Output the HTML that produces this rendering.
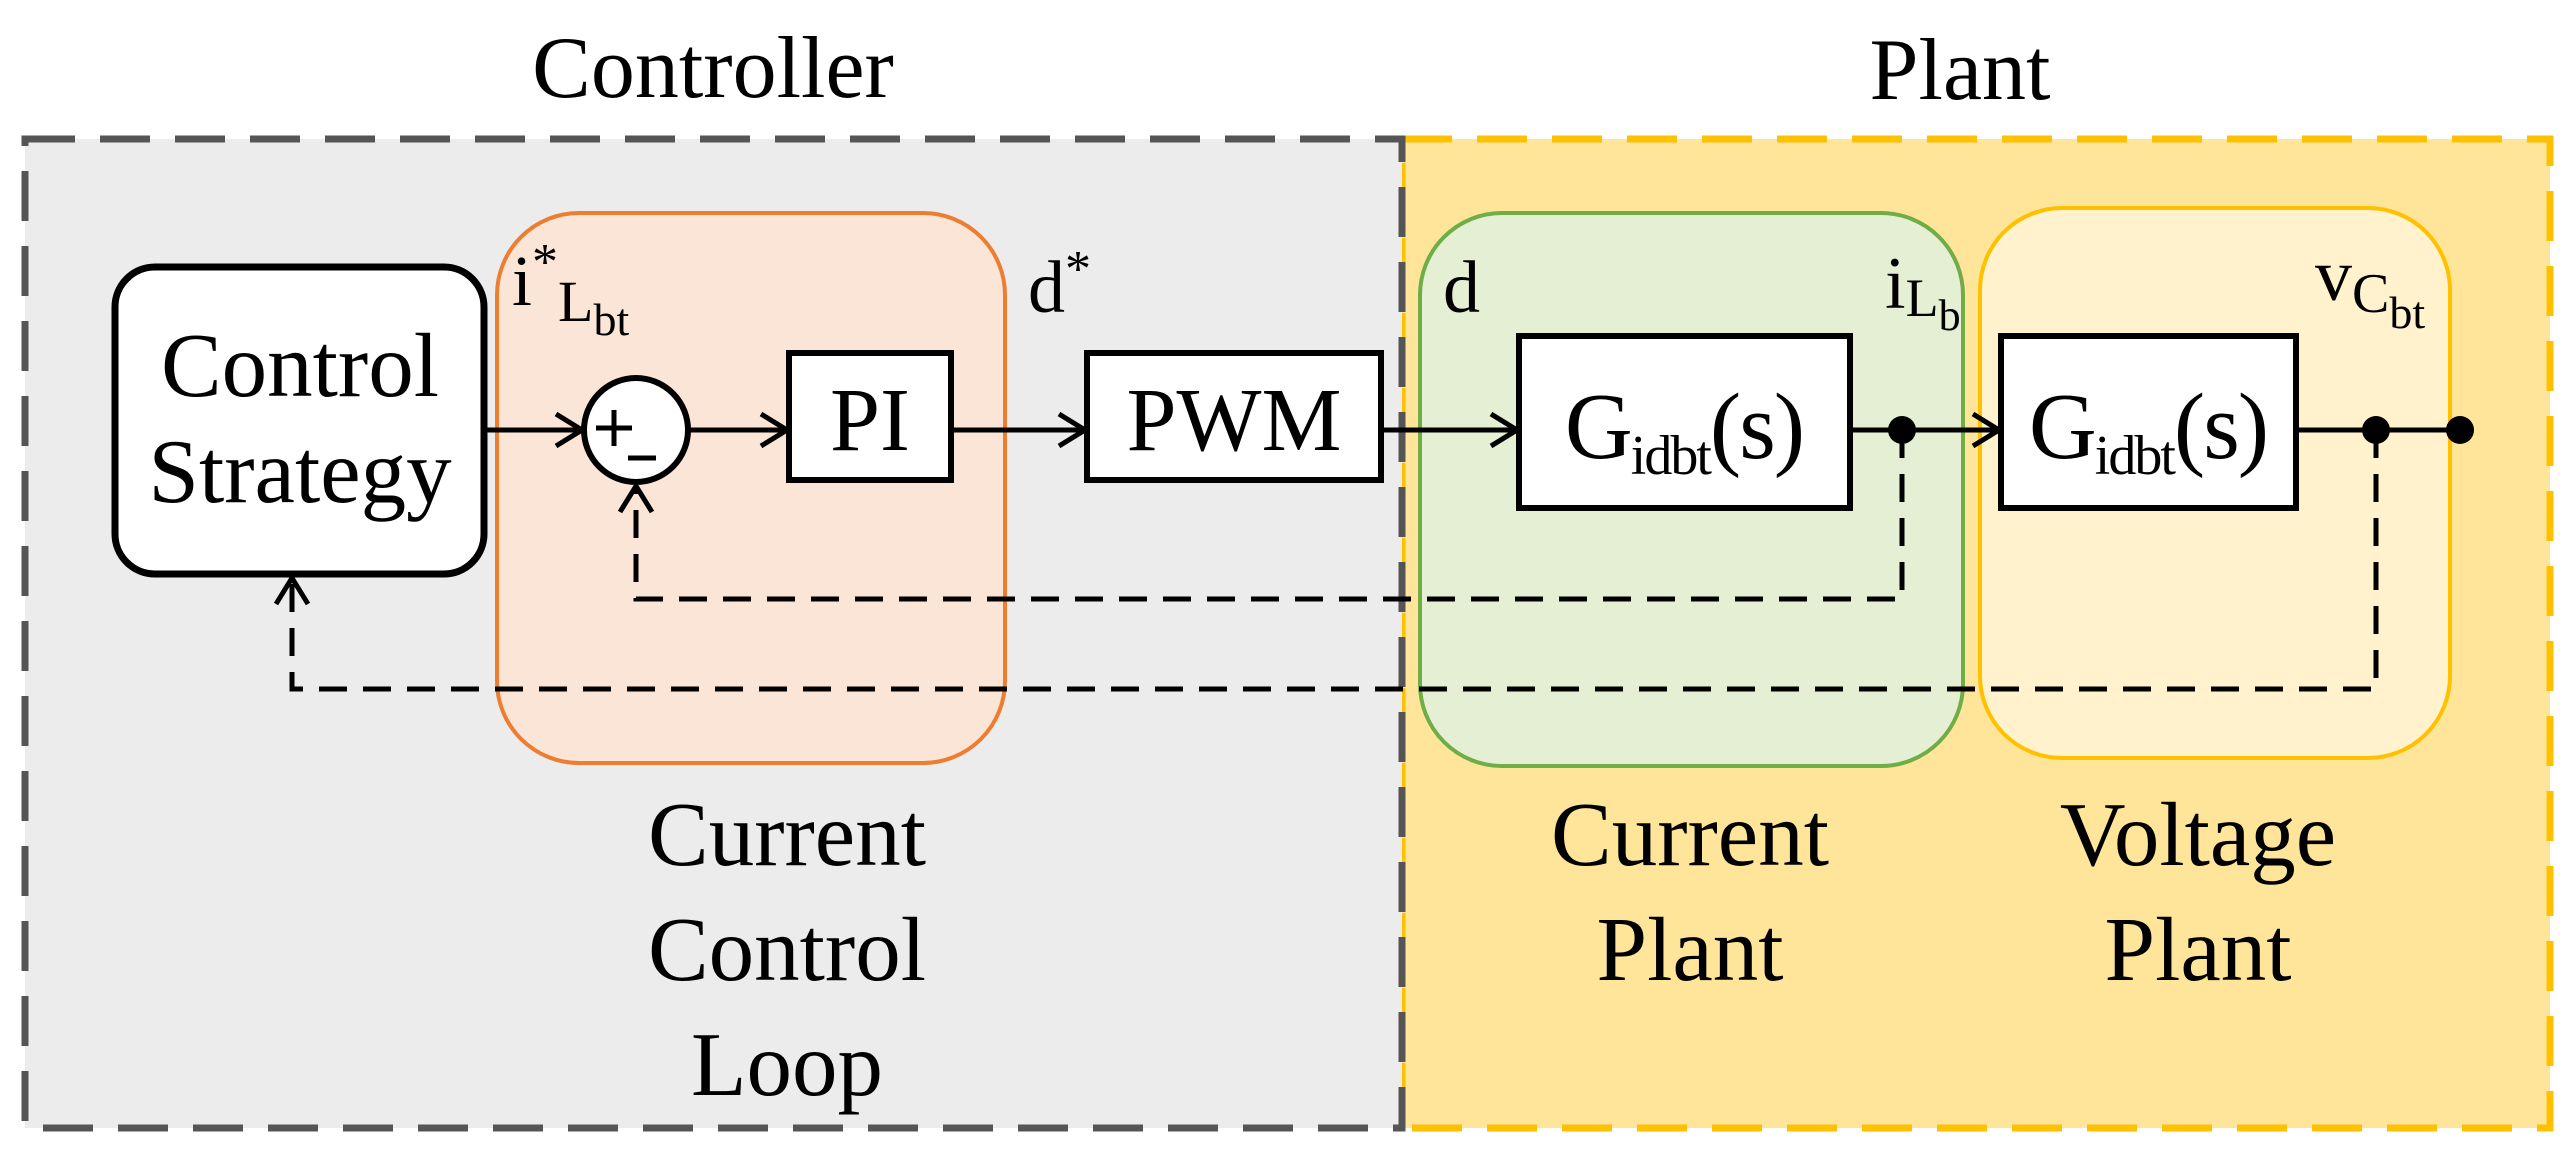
<!DOCTYPE html>
<html><head><meta charset="utf-8"><style>body{margin:0}svg{display:block}text{font-family:"Liberation Serif",serif;fill:#000}</style></head><body>
<svg width="2571" height="1168" viewBox="0 0 2571 1168" xmlns="http://www.w3.org/2000/svg">
<defs><marker id="a" markerWidth="40" markerHeight="40" refX="30" refY="20" orient="auto" markerUnits="userSpaceOnUse"><path d="M4,4 L30,20 L4,36" fill="none" stroke="#000" stroke-width="5"/></marker></defs>
<rect width="2571" height="1168" fill="#fff"/>
<rect x="1402" y="139" width="1148" height="989" fill="#fee599" stroke="#ffc000" stroke-width="7" stroke-dasharray="50,25"/>
<rect x="25" y="139" width="1377" height="989" fill="#ececec" stroke="#555" stroke-width="7" stroke-dasharray="50,25"/>
<text x="713" y="97" font-size="88" text-anchor="middle">Controller</text>
<text x="1960" y="99" font-size="88" text-anchor="middle">Plant</text>
<rect x="497" y="213" width="508" height="550" rx="82" fill="#fbe5d6" stroke="#ed7d31" stroke-width="4"/>
<rect x="1420" y="213" width="543" height="553" rx="82" fill="#e2efd9" fill-opacity="0.9" stroke="#70ad47" stroke-width="4"/>
<rect x="1980" y="208" width="470" height="550" rx="82" fill="#fff2cc" stroke="#ffc000" stroke-width="4"/>
<rect x="115" y="267" width="369" height="307" rx="40" fill="#fff" stroke="#000" stroke-width="7"/>
<text x="300" y="396" font-size="91" text-anchor="middle">Control</text>
<text x="300" y="502" font-size="91" text-anchor="middle">Strategy</text>
<g stroke="#000" stroke-width="5" fill="none">
<line x1="484" y1="430" x2="582" y2="430" marker-end="url(#a)"/>
<line x1="688" y1="430" x2="787" y2="430" marker-end="url(#a)"/>
<line x1="951" y1="430" x2="1085" y2="430" marker-end="url(#a)"/>
<line x1="1381" y1="430" x2="1517" y2="430" marker-end="url(#a)"/>
<line x1="1850" y1="430" x2="1999" y2="430" marker-end="url(#a)"/>
<line x1="2296" y1="430" x2="2460" y2="430"/>
<polyline points="1902,430 1902,599 636,599 636,486" stroke-dasharray="28,16" marker-end="url(#a)"/>
<polyline points="2376,430 2376,689 292,689 292,578" stroke-dasharray="28,16" marker-end="url(#a)"/>
</g>
<circle cx="636" cy="430" r="52" fill="#fff" stroke="#000" stroke-width="6"/>
<g stroke="#000" stroke-width="5"><line x1="596" y1="428" x2="632" y2="428"/><line x1="614" y1="410" x2="614" y2="446"/><line x1="628" y1="458" x2="656" y2="458"/></g>
<rect x="789" y="353" width="162" height="127" fill="#fff" stroke="#000" stroke-width="6"/>
<text x="870" y="450" font-size="90" text-anchor="middle">PI</text>
<rect x="1087" y="353" width="294" height="127" fill="#fff" stroke="#000" stroke-width="6"/>
<text x="1234" y="450" font-size="90" text-anchor="middle">PWM</text>
<rect x="1519" y="336" width="331" height="172" fill="#fff" stroke="#000" stroke-width="6"/>
<text x="1684" y="458" font-size="94" text-anchor="middle" letter-spacing="-2">G<tspan font-size="56" dy="16">idbt</tspan><tspan dy="-16">(s)</tspan></text>
<rect x="2001" y="336" width="295" height="172" fill="#fff" stroke="#000" stroke-width="6"/>
<text x="2148" y="458" font-size="94" text-anchor="middle" letter-spacing="-2">G<tspan font-size="56" dy="16">idbt</tspan><tspan dy="-16">(s)</tspan></text>
<circle cx="1902" cy="430" r="14"/><circle cx="2376" cy="430" r="14"/><circle cx="2460" cy="430" r="14"/>
<text x="512" y="305" font-size="72">i<tspan font-size="52" dy="-26">*</tspan><tspan font-size="58" dy="42">L</tspan><tspan font-size="46" dy="14">bt</tspan></text>
<text x="1028" y="312" font-size="74">d<tspan font-size="52" dy="-26">*</tspan></text>
<text x="1443" y="312" font-size="74">d</text>
<text x="1885" y="308" font-size="74">i<tspan font-size="54" dy="8">L</tspan><tspan font-size="44" dy="14">b</tspan></text>
<text x="2315" y="300" font-size="74">v<tspan font-size="56" dy="12">C</tspan><tspan font-size="46" dy="16">bt</tspan></text>
<g font-size="91" text-anchor="middle">
<text x="787" y="865">Current</text><text x="787" y="980">Control</text><text x="787" y="1095">Loop</text>
<text x="1690" y="865">Current</text><text x="1690" y="980">Plant</text>
<text x="2198" y="865">Voltage</text><text x="2198" y="980">Plant</text>
</g>
</svg>
</body></html>
